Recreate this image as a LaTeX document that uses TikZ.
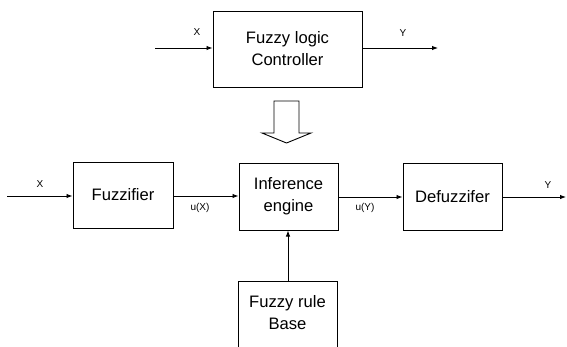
\documentclass[tikz,border=0pt]{standalone}
\usepackage{fontspec}
\setmainfont{Liberation Sans}
\usetikzlibrary{arrows.meta}
\begin{document}
\begin{tikzpicture}[x=1pt,y=-1pt,
  blk/.style={draw,line width=1pt,align=center,inner sep=0pt,
    font=\fontsize{16.6}{22}\selectfont},
  lbl/.style={font=\fontsize{10}{11}\selectfont,inner sep=0pt},
  conn/.style={line width=0.9pt,-{Latex[length=6pt,width=4.5pt]}}]
\useasboundingbox (0,0) rectangle (567,346);
\clip (0,0) rectangle (567,346);
% top
\node[blk,minimum width=149pt,minimum height=76pt] (flc) at (287.5,49) {Fuzzy logic\\Controller};
\coordinate (tin) at (155,48);
\coordinate (tout) at (438,48);
\draw[conn] (tin) -- (tin -| flc.west);
\draw[conn] (tout -| flc.east) -- (tout);
\node[lbl] (tx) at (197,32) {X};
\node[lbl] (ty) at (403,33) {Y};
% hollow arrow
\draw[line width=0.9pt] (274,101) -- (299,101) -- (299,133) -- (311,133) -- (286.5,143) -- (262,133) -- (274,133) -- cycle;
% bottom row
\node[blk,minimum width=100pt,minimum height=66pt] (fz) at (123,195) {Fuzzifier};
\node[blk,minimum width=99pt,minimum height=67pt] (ie) at (288.5,196.5) {Inference\\engine};
\node[blk,minimum width=99pt,minimum height=67pt] (df) at (452.5,196.5) {Defuzzifer};
\node[blk,minimum width=99pt,minimum height=80pt] (rb) at (287.5,321) {};
\node[font=\fontsize{16.6}{22}\selectfont,align=center] (rbt) at (287.5,313) {Fuzzy rule\\Base};
\coordinate (bin) at (7,196);
\coordinate (bout) at (566,197);
\draw[conn] (bin) -- (bin -| fz.west);
\draw[conn] (fz.east |- 0,196) -- (ie.west |- 0,196);
\draw[conn] (ie.east |- 0,197) -- (df.west |- 0,197);
\draw[conn] (df.east |- bout) -- (bout);
\draw[conn] (rb.north -| 288,0) -- (ie.south -| 288,0);
\node[lbl] (bx) at (40,184) {X};
\node[lbl] (ux) at (200,208) {u(X)};
\node[lbl] (uy) at (365,208) {u(Y)};
\node[lbl] (by) at (548,185) {Y};
\end{tikzpicture}
\end{document}
